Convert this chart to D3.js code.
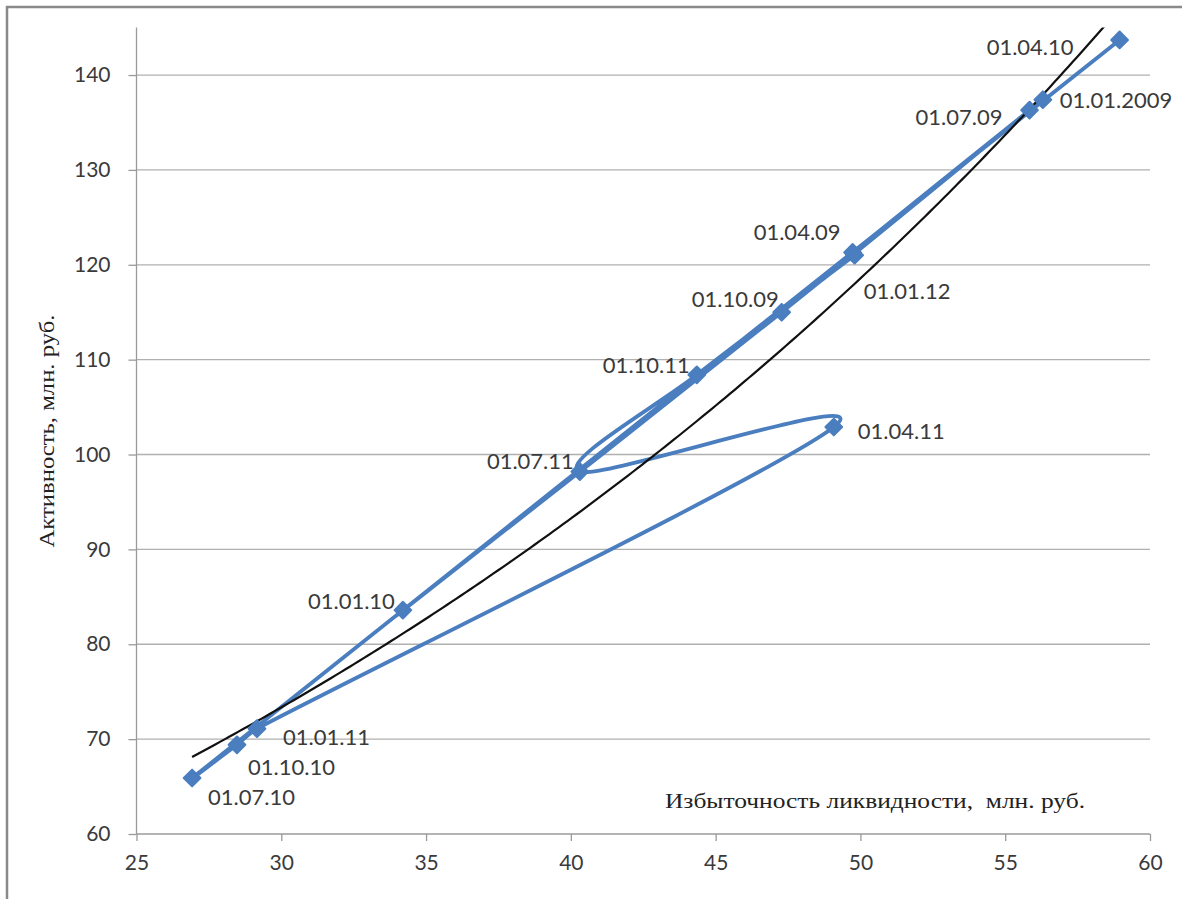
<!DOCTYPE html>
<html>
<head>
<meta charset="utf-8">
<script src="https://cdn.jsdelivr.net/npm/d3@7"></script>
<style>
  html, body { margin: 0; padding: 0; background: #fff; }
  svg { display: block; }
</style>
</head>
<body>
<svg id="chart" width="1182" height="899"></svg>
<script>
// ---- data ----
const dates   = ["01.01.2009","01.04.09","01.07.09","01.10.09","01.01.10","01.04.10","01.07.10","01.10.10","01.01.11","01.04.11","01.07.11","01.10.11","01.01.12"];
const liquidity = [56.3, 49.73, 55.84, 47.28, 34.2, 58.95, 26.92, 28.47, 29.16, 49.08, 40.31, 44.35, 49.8];
const activity  = [137.4, 121.3, 136.3, 115.0, 83.6, 143.7, 65.9, 69.4, 71.1, 102.9, 98.2, 108.4, 121.0];
const xTicks = [25, 30, 35, 40, 45, 50, 55, 60];
const yTicks = [60, 70, 80, 90, 100, 110, 120, 130, 140];
const xTitle = "Избыточность ликвидности,  млн. руб.";
const yTitle = "Активность, млн. руб.";

// label placement (style): anchor and pixel offsets from the marker
const labelStyle = {
  "01.01.2009": {a: "start", dx: 17, dy: 0},
  "01.04.09":   {a: "end",   dx: -12, dy: -20},
  "01.07.09":   {a: "end",   dx: -27, dy: 7},
  "01.10.09":   {a: "end",   dx: -3, dy: -13},
  "01.01.10":   {a: "end",   dx: -8, dy: -9},
  "01.04.10":   {a: "end",   dx: -46, dy: 7},
  "01.07.10":   {a: "start", dx: 16, dy: 19},
  "01.10.10":   {a: "start", dx: 11, dy: 22},
  "01.01.11":   {a: "start", dx: 26, dy: 8},
  "01.04.11":   {a: "start", dx: 24, dy: 4},
  "01.07.11":   {a: "end",   dx: -6, dy: -11},
  "01.10.11":   {a: "end",   dx: -7, dy: -10},
  "01.01.12":   {a: "start", dx: 9, dy: 36}
};

const points = dates.map((d, i) => ({date: d, x: liquidity[i], y: activity[i]}));

// ---- layout ----
const svg = d3.select("#chart");
const plot = {left: 136.5, right: 1150, top: 27.6, bottom: 834};
const x = d3.scaleLinear().domain([25, 60]).range([plot.left, plot.right]);
const y = d3.scaleLinear().domain([60, 145]).range([plot.bottom, plot.top]);

const gridColor = "#b0b0b0";
const axisColor = "#9a9a9a";
const textColor = "#3a3a3a";
const blue = "#4a7ebf";
const font = "Lato, 'Open Sans', sans-serif";

// outer frame
svg.append("rect")
  .attr("x", 7).attr("y", 7).attr("width", 1185).attr("height", 905)
  .attr("fill", "none").attr("stroke", "#8a8a8a").attr("stroke-width", 2.5);

// clip for the plot area
svg.append("defs").append("clipPath").attr("id", "plotclip")
  .append("rect")
  .attr("x", plot.left).attr("y", plot.top)
  .attr("width", plot.right - plot.left).attr("height", plot.bottom - plot.top);

// horizontal gridlines
svg.append("g").selectAll("line").data(yTicks.filter(t => t > 60)).join("line")
  .attr("x1", plot.left).attr("x2", plot.right)
  .attr("y1", d => y(d)).attr("y2", d => y(d))
  .attr("stroke", gridColor).attr("stroke-width", 1.3);

// y axis
const yAxis = svg.append("g")
  .attr("transform", `translate(${plot.left},0)`)
  .call(d3.axisLeft(y).tickValues(yTicks).tickSize(8).tickPadding(18).tickFormat(d3.format("d")));
yAxis.select(".domain").attr("stroke", axisColor).attr("stroke-width", 1.3)
  .attr("d", `M0,${plot.top}V${plot.bottom}`);
yAxis.selectAll(".tick line").attr("stroke", axisColor).attr("stroke-width", 1.3);
yAxis.selectAll(".tick text").attr("fill", textColor)
  .style("font-family", font).style("font-size", "21px");

// x axis
const xAxis = svg.append("g")
  .attr("transform", `translate(0,${plot.bottom})`)
  .call(d3.axisBottom(x).tickValues(xTicks).tickSize(7).tickPadding(14).tickFormat(d3.format("d")));
xAxis.select(".domain").attr("stroke", axisColor).attr("stroke-width", 1.3)
  .attr("d", `M${plot.left},0H${plot.right}`);
xAxis.selectAll(".tick line").attr("stroke", axisColor).attr("stroke-width", 1.3);
xAxis.selectAll(".tick text").attr("fill", textColor)
  .style("font-family", font).style("font-size", "21px");

// axis titles
svg.append("text")
  .attr("x", 665).attr("y", 808)
  .attr("textLength", 420).attr("lengthAdjust", "spacingAndGlyphs")
  .attr("fill", "#222")
  .style("white-space", "pre")
  .style("font-family", "'Liberation Serif', 'Times New Roman', serif")
  .style("font-size", "21px")
  .text(xTitle);

svg.append("text")
  .attr("transform", "translate(54,431) rotate(-90)")
  .attr("text-anchor", "middle")
  .attr("textLength", 233).attr("lengthAdjust", "spacingAndGlyphs")
  .attr("fill", "#222")
  .style("font-family", "'Liberation Serif', 'Times New Roman', serif")
  .style("font-size", "22px")
  .text(yTitle);

// exponential trendline fitted to the data (least squares on ln y)
const mx = d3.mean(points, p => p.x);
const mly = d3.mean(points, p => Math.log(p.y));
const b = d3.sum(points, p => (p.x - mx) * (Math.log(p.y) - mly)) / d3.sum(points, p => (p.x - mx) ** 2);
const a = Math.exp(mly - b * mx);
const [xmin, xmax] = d3.extent(points, p => p.x);
const trend = d3.range(0, 201).map(i => {
  const xv = xmin + (xmax - xmin) * i / 200;
  return {x: xv, y: a * Math.exp(b * xv)};
});

// Excel-like smoothed line: Catmull-Rom tangents (1/6), clamped per side to a third of the segment
function smoothPath(pts) {
  const P = pts.map(p => [x(p.x), y(p.y)]);
  const n = P.length;
  const dist = (u, v) => Math.hypot(v[0] - u[0], v[1] - u[1]);
  const ctrl = P.map((p, i) => {
    const prev = P[Math.max(0, i - 1)], next = P[Math.min(n - 1, i + 1)];
    let tx = (next[0] - prev[0]) / 6, ty = (next[1] - prev[1]) / 6;
    const tl = Math.hypot(tx, ty) || 1;
    const lin = i > 0 ? Math.min(1, dist(prev, p) / 3 / tl) : 0;
    const lout = i < n - 1 ? Math.min(1, dist(p, next) / 3 / tl) : 0;
    return {
      inC: [p[0] - tx * lin, p[1] - ty * lin],
      outC: [p[0] + tx * lout, p[1] + ty * lout]
    };
  });
  const path = d3.path();
  path.moveTo(P[0][0], P[0][1]);
  for (let i = 0; i < n - 1; i++) {
    const c1 = ctrl[i].outC, c2 = ctrl[i + 1].inC;
    path.bezierCurveTo(c1[0], c1[1], c2[0], c2[1], P[i + 1][0], P[i + 1][1]);
  }
  return path.toString();
}

const gPlot = svg.append("g").attr("clip-path", "url(#plotclip)");

// smoothed series line
gPlot.append("path")
  .attr("fill", "none")
  .attr("stroke", blue)
  .attr("stroke-width", 3.8)
  .attr("stroke-linejoin", "round")
  .attr("stroke-linecap", "round")
  .attr("d", smoothPath(points));

// trendline
gPlot.append("path")
  .datum(trend)
  .attr("fill", "none")
  .attr("stroke", "#111")
  .attr("stroke-width", 2.2)
  .attr("d", d3.line().x(p => x(p.x)).y(p => y(p.y)));

// markers (diamonds)
svg.append("g").selectAll("path").data(points).join("path")
  .attr("transform", p => `translate(${x(p.x)},${y(p.y)}) rotate(45)`)
  .attr("d", d3.symbol().type(d3.symbolSquare).size(140))
  .attr("fill", blue)
  .attr("stroke", blue)
  .attr("stroke-width", 2)
  .attr("stroke-linejoin", "round");

// data labels
svg.append("g").selectAll("text").data(points).join("text")
  .attr("x", p => x(p.x) + labelStyle[p.date].dx)
  .attr("y", p => y(p.y) + labelStyle[p.date].dy)
  .attr("dy", "0.36em")
  .attr("text-anchor", p => labelStyle[p.date].a)
  .attr("fill", textColor)
  .style("font-family", font)
  .style("font-size", "22px")
  .text(p => p.date);
</script>
</body>
</html>
